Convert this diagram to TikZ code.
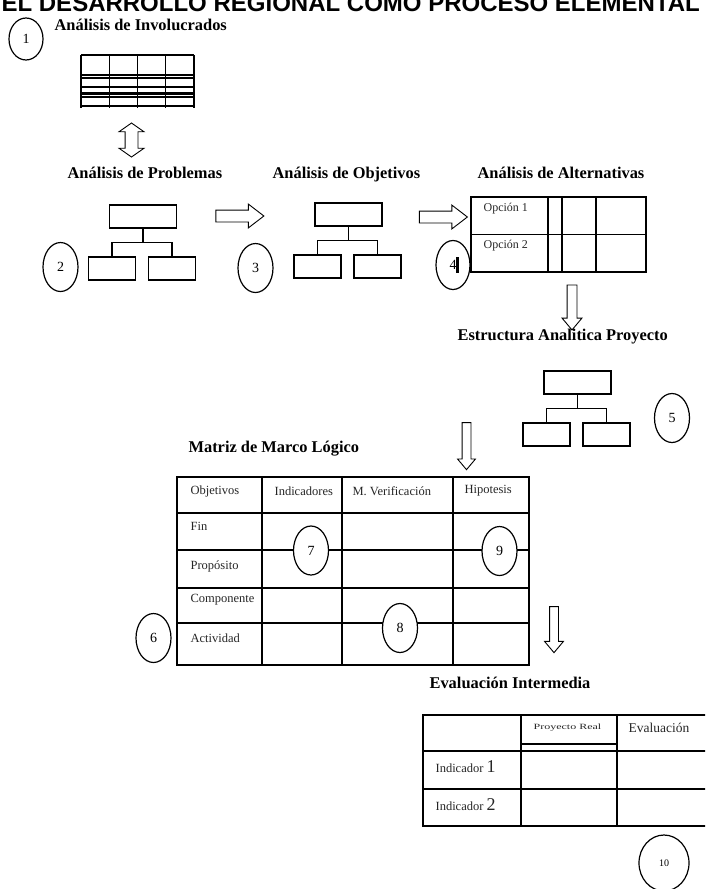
\documentclass[tikz,border=0pt]{standalone}
\usepackage{fontspec}
\setmainfont{Liberation Serif}
\newfontfamily\titlefont{Liberation Sans}
\usetikzlibrary{shapes.geometric,shapes.arrows}

\begin{document}
\begin{tikzpicture}[x=1pt,y=-1pt,line width=1.2pt,
	num/.style={draw,ellipse,fill=white,minimum width=35pt,minimum height=49pt,inner sep=0pt,font=\fontsize{14}{14}\selectfont},
	box/.style={draw,inner sep=0pt},
	topbox/.style={box,minimum width=67pt,minimum height=23pt},
	subbox/.style={box,minimum width=47pt,minimum height=23pt},
	stage/.style={anchor=base west,inner sep=0pt,font=\fontsize{16.4}{18}\selectfont\bfseries},
	cell/.style={anchor=west,inner sep=0pt,font=\fontsize{12.5}{14}\selectfont,black!85},
	harrow/.style={single arrow,draw,line width=0.9pt,inner sep=5.5pt,single arrow head extend=6pt,single arrow tip angle=75,minimum height=48pt},
	varrow/.style={single arrow,draw,line width=0.9pt,rotate=-90,inner sep=4.5pt,single arrow head extend=5pt,single arrow tip angle=80},
	darrow/.style={double arrow,draw,line width=0.9pt,rotate=90,inner sep=6pt,double arrow head extend=6pt,double arrow tip angle=110,minimum height=34pt}
	]
	\useasboundingbox (0,0) rectangle (705,889);
	\clip (0,0) rectangle (705,889);

	\node[anchor=base west,inner sep=0pt,font=\titlefont\bfseries\fontsize{24}{24}\selectfont] (title) at (1,11) {EL DESARROLLO REGIONAL COMO PROCESO ELEMENTAL};

	% etapas
	\node[stage] (l-inv) at (54,30) {Análisis de Involucrados};
	\node[stage] (l-prob) at (67,178) {Análisis de Problemas};
	\node[stage] (l-obj) at (272,178) {Análisis de Objetivos};
	\node[stage] (l-alt) at (477,178) {Análisis de Alternativas};
	\node[stage] (l-est) at (457,340) {Estructura Analitica Proyecto};
	\node[stage] (l-mml) at (188,452) {Matriz de Marco Lógico};
	\node[stage] (l-eval) at (429,688) {Evaluación Intermedia};

	% involucrados
	\foreach \x in {81,109.25,137.5,165.75,194}
		\draw (\x,55) -- (\x,108);
	\foreach \y in {55,78,87,97,106}
		\draw (81,\y) -- (194,\y);
	\foreach \y in {75,93.5}
		\draw[line width=2.2pt] (81,\y) -- (194,\y);

	% arboles
	\foreach \n/\x/\y in {prob/143/216.5, obj/348.5/214.5, est/577.5/382.5} {
		\node[topbox] (\n-top) at (\x,\y) {};
		\node[subbox] (\n-l) at ({\x-31},{\y+52}) {};
		\node[subbox] (\n-r) at ({\x+29},{\y+52}) {};
		\draw (\n-top.south) -- ++(0,14) coordinate (\n-j);
		\draw (\n-l.north) |- (\n-j) -| (\n-r.north);
	}

	% alternativas
	\draw (471,197) rectangle (646,272);
	\draw (471,234.5) -- (646,234.5);
	\foreach \x in {548,562,596}
		\draw (\x,197) -- (\x,272);
	\node[cell,font=\fontsize{12}{12}\selectfont] (op1) at (483,209) {Opción 1};
	\node[cell,font=\fontsize{12}{12}\selectfont] (op2) at (483,246) {Opción 2};

	% flechas
	\node[darrow] (a0) at (131.5,140) {};
	\node[harrow] (a1) at (236,216) {};
	\node[harrow] (a2) at (439.5,217) {};
	\node[varrow,minimum height=45pt] (a3) at (572,304.5) {};
	\node[varrow,minimum height=47pt,inner sep=4pt,single arrow head extend=4.5pt] (a4) at (466.5,443.5) {};
	\node[varrow,minimum height=46pt,inner sep=4pt] (a5) at (554,627) {};

	% matriz de marco logico
	\draw[line width=1.4pt] (177,477) rectangle (529,665);
	\foreach \x in {262,342,453}
		\draw[line width=1.4pt] (\x,477) -- (\x,665);
	\foreach \y in {513,550,588,623}
		\draw[line width=1.4pt] (177,\y) -- (529,\y);
	\node[cell] (h1) at (190,491) {Objetivos};
	\node[cell] (h2) at (274,491) {Indicadores};
	\node[cell] (h3) at (352,491) {M. Verificación};
	\node[cell] (h4) at (464,491) {Hipotesis};
	\node[cell] (r1) at (190,526) {Fin};
	\node[cell] (r2) at (190,566) {Propósito};
	\node[cell] (r3) at (190,600) {Componente};
	\node[cell] (r4) at (190,638) {Actividad};

	% evaluacion intermedia
	\draw[line width=1.4pt] (423,715) rectangle (712,826);
	\foreach \x in {521,617}
		\draw[line width=1.4pt] (\x,715) -- (\x,826);
	\foreach \y in {751,789}
		\draw[line width=1.4pt] (423,\y) -- (712,\y);
	\draw[line width=1.4pt] (521,744) -- (617,744);
	\node[cell] (e1) at (533,728) {\scalebox{1.5}[1]{\fontsize{8}{8}\selectfont Proyecto Real}};
	\node[cell,font=\fontsize{13.5}{14}\selectfont] (e2) at (628,728) {Evaluación};
	\node[cell] (e3) at (435,767) {Indicador {\fontsize{18}{18}\selectfont 1}};
	\node[cell] (e4) at (435,805) {Indicador {\fontsize{18}{18}\selectfont 2}};

	% numeros
	\node[num,minimum width=34pt,minimum height=42pt] (c1) at (26,39) {1};
	\node[num] (c2) at (60.5,267) {2};
	\node[num] (c3) at (255.5,268) {3};
	\node[num,minimum width=34pt] (c4) at (453,265) {4\hspace{6pt}};
	\draw[line width=2.6pt] (457.5,257) -- (457.5,273);
	\node[num] (c5) at (672,418) {5};
	\node[num] (c6) at (153.5,638) {6};
	\node[num] (c7) at (311,550.5) {7};
	\node[num] (c8) at (400,628) {8};
	\node[num] (c9) at (499.5,551) {9};
	\node[num,minimum width=50pt,minimum height=56pt,font=\fontsize{10}{10}\selectfont] (c10) at (664,863) {10};
\end{tikzpicture}
\end{document}
